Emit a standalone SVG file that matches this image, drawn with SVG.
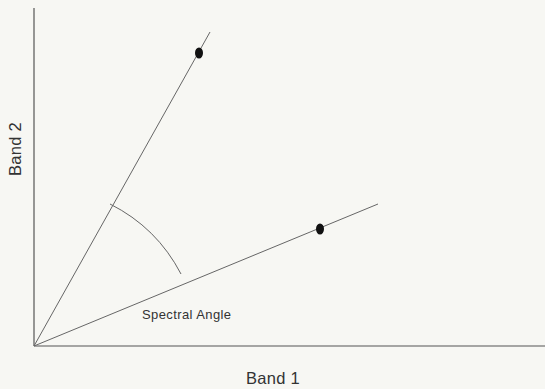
<svg xmlns="http://www.w3.org/2000/svg" width="545" height="389" viewBox="0 0 545 389">
<style>
.ax{stroke:#555;stroke-width:1.2;fill:none}
.ln{stroke:#666;stroke-width:1;fill:none}
.dot{fill:#111}
text{font-family:"Liberation Sans","DejaVu Sans",sans-serif;fill:#333}
</style>
<rect width="545" height="389" fill="#f7f7f3"/>
<g id="axes">
<line class="ax" x1="34" y1="8" x2="34" y2="346"/>
<line class="ax" x1="34" y1="346" x2="545" y2="346"/>
</g>
<g id="connectors">
<line class="ln" x1="34" y1="346" x2="210" y2="32"/>
<line class="ln" x1="34" y1="346" x2="378" y2="204"/>
<path class="ln" d="M110,204 A162,162 0 0 1 181,274"/>
</g>
<g id="point1"><ellipse class="dot" cx="199" cy="53" rx="4" ry="5.5"/></g>
<g id="point2"><ellipse class="dot" cx="320" cy="229" rx="4" ry="5.5"/></g>
<g id="labels">
<text x="142" y="319" font-size="13" letter-spacing="0.4">Spectral Angle</text>
<text x="273" y="384" font-size="16.5" text-anchor="middle" letter-spacing="0.3">Band 1</text>
<text x="0" y="0" font-size="16.5" text-anchor="middle" letter-spacing="0.3" transform="translate(21,149) rotate(-90)">Band 2</text>
</g>
</svg>
